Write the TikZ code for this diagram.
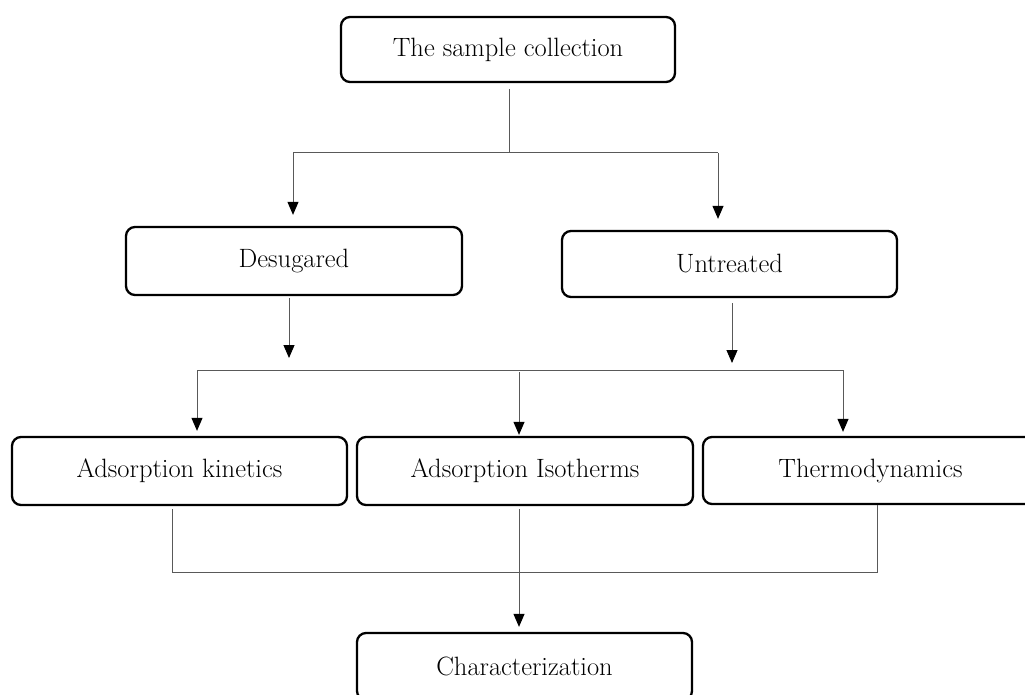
\documentclass[tikz,border=0pt]{standalone}
\usetikzlibrary{arrows.meta}
\begin{document}
\begin{tikzpicture}[x=1pt,y=-1pt,
  box/.style={draw=black, line width=2.3pt, rounded corners=9pt, fill=white,
    minimum width=335pt, minimum height=67pt, inner sep=0pt,
    font=\fontsize{26.5}{30}\selectfont},
  conn/.style={draw=black!65, line width=1pt},
  arr/.style={conn, -{Triangle[length=13pt,width=11pt,color=black]}}]
\clip (0,0) rectangle (1025,695);
\fill[white] (0,0) rectangle (1025,695);

% nodes
\node[box, minimum width=334pt, minimum height=65pt] (top) at (508,49.5) {The sample collection};
\node[box, minimum width=336pt, minimum height=68pt] (des) at (294,261) {Desugared};
\node[box, minimum height=66pt] (unt) at (729.5,264) {Untreated};
\node[box, minimum height=68pt] (kin) at (179.5,471) {Adsorption kinetics};
\node[box, minimum width=336pt, minimum height=68pt] (iso) at (525,471) {Adsorption Isotherms};
\node[box] (thr) at (870.5,470.5) {Thermodynamics};
\node[box] (cha) at (524.5,666.5) {Characterization};

% junction coordinates
\coordinate (a0) at (509,89);
\coordinate (a1) at (509,153);
\coordinate (aL) at (293,153);
\coordinate (aR) at (718,153);
\coordinate (b1) at (289,358);
\coordinate (b2) at (732,363);
\coordinate (hL) at (197,370);
\coordinate (hR) at (843,370);
\coordinate (hM) at (519,372);
\coordinate (dL) at (172,572);
\coordinate (dR) at (877,572);

% first split
\draw[conn] (a0) -- (a1);
\draw[conn] (aL) -- (aR);
\draw[arr, shorten >=11pt] (aL) -- (aL |- des.north);
\draw[arr, shorten >=11pt] (aR) -- (aR |- unt.north);

% into second split
\draw[arr, shorten <=2pt] (des.south -| b1) -- (b1);
\draw[arr, shorten <=5pt] (unt.south -| b2) -- (b2);
\draw[conn] (hL) -- (hR);
\draw[arr, shorten >=5pt] (hL) -- (hL |- kin.north);
\draw[arr, shorten >=1pt] (hM) -- (hM |- iso.north);
\draw[arr, shorten >=4pt] (hR) -- (hR |- thr.north);

% merge
\draw[conn, shorten <=3pt] (dL |- kin.south) -- (dL) -- (dR) -- (dR |- thr.south);
\draw[arr, shorten <=3pt, shorten >=5pt] (iso.south -| hM) -- (hM |- cha.north);
\end{tikzpicture}
\end{document}
